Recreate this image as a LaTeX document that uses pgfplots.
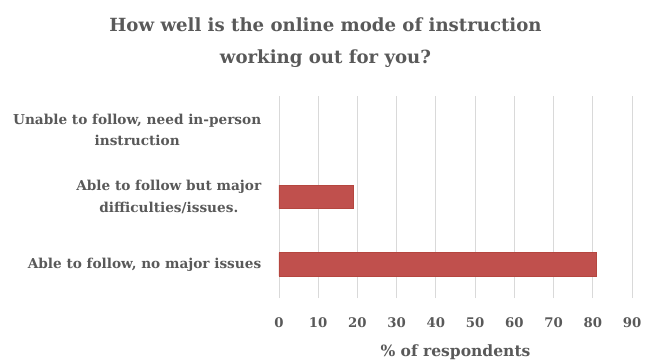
\documentclass[border=0pt]{standalone}
\usepackage{fontspec}
\setmainfont{DejaVu Serif}
\usepackage{pgfplots}
\pgfplotsset{compat=1.18}
\definecolor{txt}{HTML}{595959}
\definecolor{barc}{HTML}{C0504D}
\definecolor{bard}{HTML}{B5463F}
\definecolor{grd}{HTML}{D9D9D9}
\begin{document}
\begin{tikzpicture}
\begin{axis}[
  xbar,
  scale only axis,
  width=353bp, height=202bp,
  xmin=0, xmax=90, ymin=-0.5, ymax=2.5,
  xtick={0,10,...,90},
  ytick={0,1,2},
  yticklabels={{Able to follow, no major issues},{Able to follow but major\\difficulties/issues.},{Unable to follow, need in-person\\instruction}},
  axis line style={draw=none},
  tick style={draw=none},
  xmajorgrids,
  grid style={grd, line width=0.8bp},
  bar width=23.5bp,
  /pgf/number format/assume math mode=true,
  xticklabel style={font=\bfseries\fontsize{13.3}{13}\selectfont, text=txt, yshift=-16bp},
  yticklabel style={font=\bfseries\fontsize{13.7}{21.5}\selectfont, text=txt, align=center, xshift=-10bp},
  xlabel={\% of respondents},
  xlabel style={font=\bfseries\fontsize{15.6}{15}\selectfont, text=txt, at={(axis description cs:0.5,0)}, anchor=center, yshift=-54bp},
  title={How well is the online mode of instruction\\working out for you?},
  title style={font=\bfseries\fontsize{18.2}{32}\selectfont, text=txt, align=center, at={(axis description cs:0,0)}, anchor=center, xshift=46.5bp, yshift=249bp},
  clip=false,
]
\addplot[fill=barc, draw=bard, line width=0.6bp] coordinates {(81,0) (19,1)};
\coordinate (O) at (axis cs:0,-0.5);
\end{axis}
\path[use as bounding box] ([xshift=-279bp,yshift=-64bp]O) rectangle ([xshift=372bp,yshift=298bp]O);
\end{tikzpicture}
\end{document}
